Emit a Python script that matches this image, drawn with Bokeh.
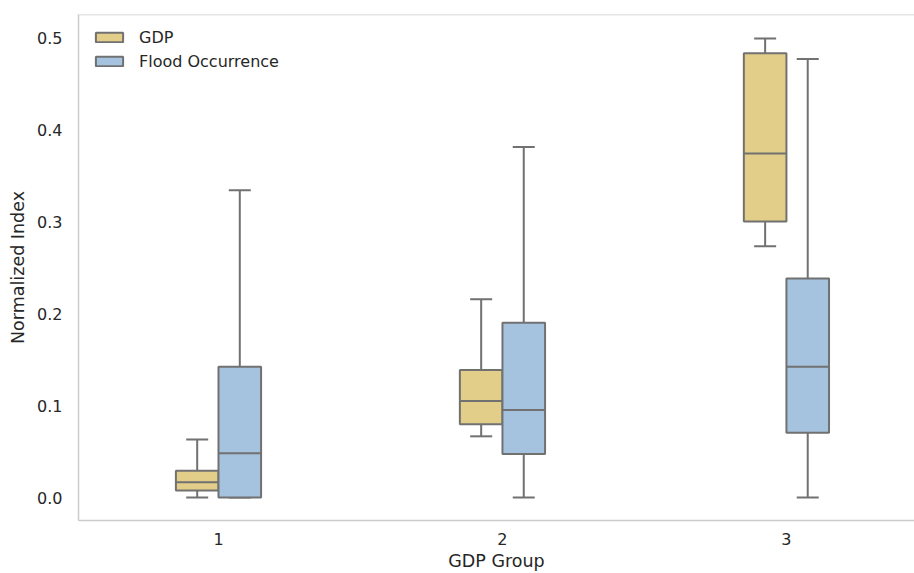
from bokeh.plotting import figure
from bokeh.models import FixedTicker, Span, Range1d, ColumnDataSource
from bokeh.embed import file_html
from bokeh.resources import INLINE

# ---- data ----
groups = [1, 2, 3]
group_labels = ["1", "2", "3"]
series_names = ["GDP", "Flood Occurrence"]

gdp_low = [0.0, 0.0665, 0.273]
gdp_q1 = [0.0075, 0.0795, 0.300]
gdp_med = [0.0165, 0.105, 0.374]
gdp_q3 = [0.029, 0.1385, 0.483]
gdp_high = [0.063, 0.2155, 0.499]

flood_low = [0.0, 0.0, 0.0]
flood_q1 = [0.0, 0.0474, 0.0705]
flood_med = [0.048, 0.095, 0.142]
flood_q3 = [0.142, 0.190, 0.238]
flood_high = [0.334, 0.381, 0.4765]

# ---- styling ----
fills = ["#E2CE88", "#A5C3DE"]
offsets = [-0.075, 0.075]
box_w = 0.15
cap_w = 0.0775
edge = "#717171"
txt = "#262626"
spine = "#cccccc"
font = "DejaVu Sans"

p = figure(width=914, height=573, output_backend="svg", toolbar_location=None,
           x_range=Range1d(0.507, 3.451), y_range=Range1d(-0.025, 0.525),
           min_border_left=78, min_border_top=14, min_border_right=0,
           min_border_bottom=0)
p.outline_line_color = None
p.grid.visible = False
p.background_fill_color = "white"
p.border_fill_color = "white"

stats = [
    (gdp_low, gdp_q1, gdp_med, gdp_q3, gdp_high),
    (flood_low, flood_q1, flood_med, flood_q3, flood_high),
]

for name, fill, off, (lo, q1, med, q3, hi) in zip(series_names, fills, offsets, stats):
    xs = [g + off for g in groups]
    src = ColumnDataSource(dict(
        x=xs, xl=[x - box_w / 2 for x in xs], xr=[x + box_w / 2 for x in xs],
        cl=[x - cap_w / 2 for x in xs], cr=[x + cap_w / 2 for x in xs],
        lo=lo, q1=q1, med=med, q3=q3, hi=hi))
    p.segment(x0="x", y0="q3", x1="x", y1="hi", source=src, line_color=edge, line_width=2)
    p.segment(x0="x", y0="q1", x1="x", y1="lo", source=src, line_color=edge, line_width=2)
    p.segment(x0="cl", y0="hi", x1="cr", y1="hi", source=src, line_color=edge, line_width=2)
    p.segment(x0="cl", y0="lo", x1="cr", y1="lo", source=src, line_color=edge, line_width=2)
    p.vbar(x="x", width=box_w, bottom="q1", top="q3", source=src,
           fill_color=fill, line_color=edge, line_width=2, legend_label=name)
    p.segment(x0="xl", y0="med", x1="xr", y1="med", source=src, line_color=edge, line_width=2)

p.add_layout(Span(location=0.525, dimension="width", line_color=spine, line_width=1.5))

# axes
p.xaxis.ticker = FixedTicker(ticks=groups)
p.xaxis.major_label_overrides = {g: lab for g, lab in zip(groups, group_labels)}
p.yaxis.ticker = FixedTicker(ticks=[0.0, 0.1, 0.2, 0.3, 0.4, 0.5])
p.yaxis.major_label_overrides = {0.0: "0.0"}
p.xaxis.axis_label = "GDP Group"
p.yaxis.axis_label = "Normalized Index"
for ax in (p.xaxis, p.yaxis):
    ax.axis_line_color = spine
    ax.axis_line_width = 1.5
    ax.major_tick_line_color = None
    ax.minor_tick_line_color = None
    ax.major_tick_out = 0
    ax.major_tick_in = 0
    ax.minor_tick_out = 0
    ax.major_label_text_font = font
    ax.major_label_text_font_size = "16px"
    ax.major_label_text_color = txt
    ax.axis_label_text_font = font
    ax.axis_label_text_font_size = "17.5px"
    ax.axis_label_text_font_style = "normal"
    ax.axis_label_text_color = txt
p.xaxis.major_label_standoff = 12
p.xaxis.axis_label_standoff = 3
p.yaxis.major_label_standoff = 16
p.yaxis.axis_label_standoff = 6

# legend
lg = p.legend[0]
lg.location = (14, 449)
lg.border_line_color = None
lg.background_fill_alpha = 0
lg.label_text_font = font
lg.label_text_font_size = "16px"
lg.label_text_color = txt
lg.glyph_width = 34
lg.glyph_height = 12
lg.label_height = 20
lg.label_standoff = 13
lg.spacing = 4
lg.margin = 8
lg.padding = 7

open("out.html", "w").write(file_html(p, INLINE))
